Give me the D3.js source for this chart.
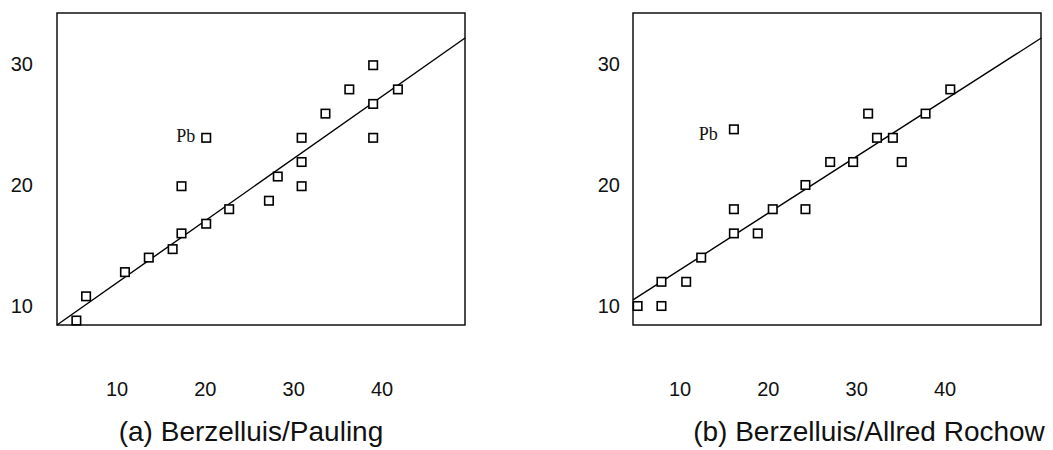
<!DOCTYPE html>
<html>
<head>
<meta charset="utf-8">
<script src="https://cdn.jsdelivr.net/npm/d3@7/dist/d3.min.js"></script>
<style>
    body { margin: 0; background: #fff; }
    svg { display: block; }
    .frame { fill: none; stroke: #111; stroke-width: 1.5; }
    .fit { fill: none; stroke: #000; stroke-width: 1.4; }
    .pt { fill: #fff; stroke: #000; stroke-width: 1.6; }
    .tick { font-family: "Liberation Sans", Arial, sans-serif; font-size: 20px; fill: #111; }
    .caption { font-family: "Liberation Sans", Arial, sans-serif; font-size: 28px; fill: #111; }
    .pb { font-family: "Liberation Serif", "Times New Roman", serif; font-size: 18px; fill: #111; }
</style>
</head>
<body>
<script>

// tick labels, shared by both panels
var xTicks = [10, 20, 30, 40];
var yTicks = [10, 20, 30];

// (a) Berzelius vs Pauling
var paulingPoints = [
    [5.4, 8.8], [6.5, 10.8], [10.9, 12.8], [13.6, 14.0], [16.3, 14.7],
    [17.3, 16.0], [20.1, 16.8], [22.7, 18.0], [27.2, 18.7], [28.2, 20.7],
    [30.9, 19.9], [30.9, 21.9], [30.9, 23.9], [33.6, 25.9], [36.3, 27.9],
    [39.0, 29.9], [39.0, 26.7], [39.0, 23.9], [41.8, 27.9], [17.3, 19.9]
];
var paulingPb = [20.1, 23.9];
var paulingFit = [[3.2, 8.43], [49.4, 32.15]];

// (b) Berzelius vs Allred Rochow
var rochowPoints = [
    [5.2, 10], [7.9, 10], [7.9, 12], [10.7, 12], [12.4, 14],
    [16.1, 16], [18.8, 16], [16.1, 18], [20.5, 18], [24.2, 18],
    [24.2, 20], [27.0, 21.9], [29.6, 21.9], [35.1, 21.9], [32.3, 23.9],
    [34.1, 23.9], [31.3, 25.9], [37.8, 25.9], [40.6, 27.9]
];
var rochowPb = [16.1, 24.6];
var rochowFit = [[4.68, 10.5], [50.9, 32.15]];

var svg = d3.select('body').append('svg')
    .attr('width', 1053)
    .attr('height', 450);

/**
 * One panel: framed box, points as open squares,
 * the fitted line, tick labels outside and a caption below.
 */
function drawPanel(p)
{
    var x = d3.scaleLinear().domain([10, 40]).range([p.x10, p.x10 + 265]);
    var y = d3.scaleLinear().domain([10, 30]).range([306, 64]);
    var g = svg.append('g').attr('class', 'panel');

    g.append('rect')
        .attr('class', 'frame')
        .attr('x', p.box[0])
        .attr('y', p.box[1])
        .attr('width', p.box[2] - p.box[0])
        .attr('height', p.box[3] - p.box[1]);

    g.append('path')
        .attr('class', 'fit')
        .attr('d', d3.line().x(function(d) { return x(d[0]); }).y(function(d) { return y(d[1]); })(p.fit));

    var s = 8.5;
    g.selectAll('rect.pt')
        .data(p.points.concat([p.pb]))
        .enter().append('rect')
            .attr('class', 'pt')
            .attr('x', function(d) { return x(d[0]) - s/2; })
            .attr('y', function(d) { return y(d[1]) - s/2; })
            .attr('width', s)
            .attr('height', s);

    g.append('text')
        .attr('class', 'pb')
        .attr('x', x(p.pb[0]) + p.pbOffset[0])
        .attr('y', y(p.pb[1]) + p.pbOffset[1])
        .attr('text-anchor', 'end')
        .text('Pb');

    // y tick labels, right aligned left of the frame
    g.selectAll('text.ytick')
        .data(yTicks)
        .enter().append('text')
            .attr('class', 'tick')
            .attr('x', p.yLabelX)
            .attr('y', function(d) { return y(d) + 7; })
            .attr('text-anchor', 'end')
            .text(function(d) { return d; });

    // x tick labels, well below the frame
    g.selectAll('text.xtick')
        .data(xTicks)
        .enter().append('text')
            .attr('class', 'tick')
            .attr('x', function(d) { return x(d); })
            .attr('y', 396)
            .attr('text-anchor', 'middle')
            .text(function(d) { return d; });

    g.append('text')
        .attr('class', 'caption')
        .attr('x', p.captionX)
        .attr('y', 441)
        .attr('text-anchor', 'middle')
        .text(p.caption);
}

drawPanel({
    box: [57, 13, 465, 325],
    x10: 117,
    yLabelX: 33,
    points: paulingPoints,
    pb: paulingPb,
    pbOffset: [-11, 4.5],
    fit: paulingFit,
    caption: '(a) Berzelluis/Pauling',
    captionX: 251
});

drawPanel({
    box: [633, 13, 1041, 325],
    x10: 680,
    yLabelX: 620,
    points: rochowPoints,
    pb: rochowPb,
    pbOffset: [-16, 11],
    fit: rochowFit,
    caption: '(b) Berzelluis/Allred Rochow',
    captionX: 869
});

</script>
</body>
</html>
